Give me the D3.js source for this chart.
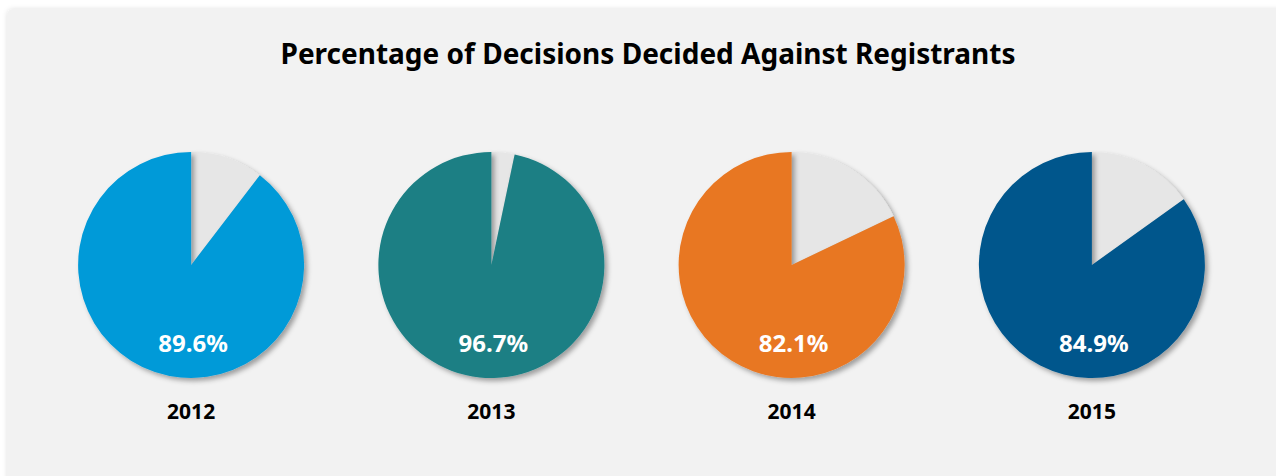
<!DOCTYPE html>
<html>
<head>
<meta charset="utf-8">
<script src="https://cdn.jsdelivr.net/npm/d3@7"></script>
<style>
  html, body { margin: 0; padding: 0; background: #ffffff; }
  svg { display: block; }
</style>
</head>
<body>
<svg id="chart" width="1276" height="476"></svg>
<script>
// Share of decisions decided against registrants, by year
const years = ["2012", "2013", "2014", "2015"];
const percentAgainst = [89.6, 96.7, 82.1, 84.9];
const sliceColors = ["#009ad8", "#1b7f84", "#e87722", "#03578c"];
const remainderColor = "#e6e6e6";
const titleText = "Percentage of Decisions Decided Against Registrants";

const W = 1276, H = 476;
const FONT = "'Noto Sans', 'DejaVu Sans', sans-serif";
const svg = d3.select("#chart");
const defs = svg.append("defs");

// soft shadow behind the card
const cardShadow = defs.append("filter").attr("id", "cardShadow")
  .attr("x", "-5%").attr("y", "-5%").attr("width", "110%").attr("height", "110%");
cardShadow.append("feDropShadow")
  .attr("dx", 0).attr("dy", 0).attr("stdDeviation", 2.5)
  .attr("flood-color", "#000").attr("flood-opacity", 0.12);

// drop shadow cast by the pie slices
const pieShadow = defs.append("filter").attr("id", "pieShadow")
  .attr("x", "-20%").attr("y", "-20%").attr("width", "140%").attr("height", "140%");
pieShadow.append("feDropShadow")
  .attr("dx", 3).attr("dy", 3).attr("stdDeviation", 2.5)
  .attr("flood-color", "#000").attr("flood-opacity", 0.35);

// card
svg.append("rect")
  .attr("x", 7).attr("y", 9)
  .attr("width", W + 20).attr("height", H + 20)
  .attr("rx", 6)
  .attr("fill", "#f2f2f2")
  .attr("filter", "url(#cardShadow)");

// title
svg.append("text")
  .attr("x", 648).attr("y", 64)
  .attr("text-anchor", "middle")
  .attr("font-family", FONT)
  .attr("font-weight", 700)
  .attr("font-size", 28)
  .attr("fill", "#000")
  .text(titleText);

const x = d3.scalePoint().domain(years).range([41, 1242]).padding(0.5);
const cy = 265;
const radius = 113;

const pie = d3.pie().sort(null).value(d => d.value);
const arc = d3.arc().innerRadius(0).outerRadius(radius);

const data = years.map((y, i) => ({
  year: y,
  pct: percentAgainst[i],
  color: sliceColors[i]
}));

const groups = svg.selectAll("g.pie")
  .data(data)
  .join("g")
  .attr("class", "pie")
  .attr("transform", d => `translate(${x(d.year)},${cy})`);

groups.each(function(d) {
  const g = d3.select(this);
  const slices = pie([
    { key: "other", value: 100 - d.pct, color: remainderColor },
    { key: "against", value: d.pct, color: d.color }
  ]);
  g.selectAll("path")
    .data(slices)
    .join("path")
    .attr("d", arc)
    .attr("fill", s => s.data.color)
    .attr("filter", "url(#pieShadow)");

  g.append("text")
    .attr("x", 2).attr("y", 87)
    .attr("text-anchor", "middle")
    .attr("font-family", FONT)
    .attr("font-weight", 700)
    .attr("font-size", 24)
    .attr("fill", "#ffffff")
    .text(d.pct.toFixed(1) + "%");
});

// year labels
svg.selectAll("text.year")
  .data(years)
  .join("text")
  .attr("class", "year")
  .attr("x", d => x(d))
  .attr("y", 419)
  .attr("text-anchor", "middle")
  .attr("font-family", FONT)
  .attr("font-weight", 700)
  .attr("font-size", 21)
  .attr("fill", "#000")
  .text(d => d);
</script>
</body>
</html>
